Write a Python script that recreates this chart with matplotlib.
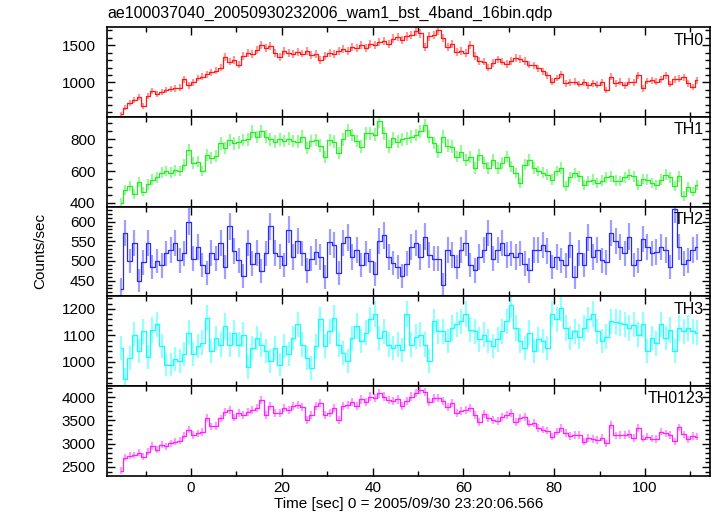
import numpy as np
import matplotlib
matplotlib.use("Agg")
import matplotlib.pyplot as plt
from matplotlib.ticker import MultipleLocator

plt.rcParams["font.family"] = ["Liberation Sans", "DejaVu Sans"]

TITLE = "ae100037040_20050930232006_wam1_bst_4band_16bin.qdp"
XLABEL = "Time [sec] 0 = 2005/09/30 23:20:06.566"
YLABEL = "Counts/sec"

# bin centres [sec], 1 s bins
TIME = np.arange(-15.5, 112.0, 1.0)
EXPOSURE = 0.5  # original 16-bin exposure, sets the Poisson error size

TH0 = [
    570, 660, 720, 760, 800, 680, 820, 880, 840, 870,
    900, 910, 920, 930, 1040, 960, 1000, 1060, 1080, 1110,
    1140, 1160, 1200, 1340, 1280, 1300, 1240, 1360, 1400, 1380,
    1440, 1510, 1470, 1490, 1400, 1340, 1420, 1400, 1380, 1410,
    1390, 1420, 1370, 1380, 1300, 1360, 1400, 1380, 1420, 1450,
    1430, 1480, 1470, 1500, 1460, 1520, 1500, 1540, 1560, 1520,
    1590, 1610, 1570, 1620, 1640, 1690, 1660, 1480, 1620, 1640,
    1700, 1600, 1480, 1520, 1410, 1420, 1400, 1500, 1360, 1290,
    1280, 1200, 1260, 1310, 1280, 1250, 1290, 1330, 1320, 1290,
    1240, 1230, 1190, 1150, 1100, 1010, 1060, 1110, 990, 1000,
    1010, 980, 1000, 960, 990, 970, 1000, 900, 1080, 990,
    1010, 960, 1010, 1000, 1100, 920, 1020, 1030, 1010, 1040,
    1100, 980, 1040, 1050, 1070, 990, 940, 1030,
]

TH1 = [
    400, 480, 505, 455, 530, 470, 515, 545, 560, 590,
    600, 590, 605, 600, 640, 730, 650, 660, 600, 700,
    680, 695, 775, 745, 795, 775, 780, 795, 800, 848,
    815, 850, 816, 800, 785, 800, 790, 805, 790, 785,
    816, 744, 790, 796, 760, 690, 796, 785, 712, 800,
    858, 827, 790, 754, 837, 837, 830, 915, 837, 754,
    806, 785, 800, 806, 816, 827, 850, 889, 816, 776,
    723, 816, 760, 754, 691, 723, 670, 690, 619, 702,
    650, 619, 670, 619, 650, 691, 630, 587, 525, 640,
    670, 619, 600, 590, 577, 546, 600, 619, 504, 560,
    587, 566, 514, 535, 545, 525, 540, 560, 566, 540,
    535, 560, 577, 566, 514, 550, 546, 525, 510, 546,
    577, 560, 504, 566, 441, 500, 470, 514,
]

TH2 = [
    428, 571, 500, 545, 450, 497, 545, 484, 500, 489,
    519, 528, 545, 502, 519, 600, 505, 536, 490, 470,
    520, 506, 545, 484, 588, 525, 502, 462, 545, 493,
    520, 475, 519, 588, 520, 512, 490, 579, 510, 550,
    519, 476, 505, 523, 510, 460, 549, 540, 470, 545,
    560, 510, 528, 490, 519, 500, 467, 550, 565, 510,
    495, 485, 462, 493, 536, 545, 510, 562, 515, 505,
    506, 440, 528, 515, 484, 528, 545, 490, 476, 510,
    528, 571, 505, 528, 545, 515, 519, 510, 519, 493,
    476, 528, 528, 540, 525, 484, 510, 502, 489, 540,
    458, 520, 490, 560, 510, 528, 502, 497, 571, 550,
    536, 519, 562, 490, 502, 555, 536, 519, 523, 536,
    528, 484, 631, 536, 493, 502, 528, 536,
]

TH3 = [
    1053, 935, 1015, 1103, 1040, 1116, 1020, 1120, 1141, 1060,
    990, 990, 1010, 1002, 1028, 1110, 1028, 1060, 1072, 1166,
    1040, 1090, 1065, 1135, 1065, 1110, 1065, 1103, 980, 1053,
    1090, 1065, 1040, 1002, 1053, 990, 1060, 1028, 1090, 1141,
    1065, 1015, 977, 1058, 1160, 1060, 1116, 1166, 1065, 1035,
    1002, 1090, 1135, 1078, 1110, 1160, 1179, 1090, 1116, 1065,
    1053, 1065, 1045, 1179, 1065, 1095, 1103, 1065, 1002, 1153,
    1116, 1116, 1078, 1128, 1141, 1153, 1179, 1122, 1116, 1085,
    1103, 1078, 1060, 1085, 1116, 1153, 1216, 1128, 1080, 1053,
    1110, 1040, 1085, 1078, 1053, 1179, 1160, 1204, 1128, 1090,
    1116, 1095, 1128, 1160, 1179, 1116, 1078, 1095, 1153, 1150,
    1147, 1141, 1128, 1140, 1103, 1141, 1040, 1090, 1070, 1141,
    1090, 1120, 1040, 1128, 1116, 1128, 1116, 1110,
]

TH0123 = [
    2420, 2700, 2740, 2757, 2800, 2720, 2830, 2950, 2870, 2980,
    2940, 3010, 3040, 3060, 3170, 3300, 3190, 3220, 3250, 3545,
    3370, 3380, 3540, 3690, 3730, 3560, 3650, 3620, 3680, 3730,
    3760, 3940, 3620, 3810, 3650, 3660, 3760, 3730, 3800, 3830,
    3780, 3500, 3620, 3800, 3870, 3610, 3660, 3760, 3510, 3800,
    3830, 3900, 3800, 3950, 3890, 4010, 3980, 4080, 4010, 3940,
    3910, 3950, 3800, 3920, 4010, 4090, 4150, 4110, 3900, 3970,
    3980, 3920, 3780, 3870, 3660, 3700, 3720, 3760, 3620, 3470,
    3630, 3550, 3510, 3480, 3580, 3620, 3650, 3470, 3550, 3580,
    3430, 3440, 3330, 3300, 3280, 3150, 3260, 3330, 3230, 3160,
    3190, 3190, 3040, 3120, 3100, 3080, 3130, 3010, 3400, 3180,
    3190, 3190, 3210, 3120, 3330, 3110, 3150, 3110, 3100, 3260,
    3220, 3190, 3050, 3350, 3200, 3090, 3160, 3150,
]

NAMES = ["TH0", "TH1", "TH2", "TH3", "TH0123"]
SERIES = [TH0, TH1, TH2, TH3, TH0123]
COLORS = ["#ff1a1a", "#22ee22", "#2a2aff", "#11ffff", "#ff22ff"]
YLIMS = [(535, 1743), (375, 941), (410, 638), (909, 1247), (2312, 4237)]
YMAJOR = [500, 200, 50, 100, 500]
YMINOR = [100, 50, 10, 20, 100]


def main():
    fig = plt.figure(figsize=(7.17, 5.16), dpi=100)
    left, right = 106.7 / 717, 710 / 717
    top, bottom = 1 - 27.3 / 516, 1 - 475.7 / 516
    h = (top - bottom) / 5
    axes = []
    for i in range(5):
        ax = fig.add_axes([left, top - (i + 1) * h, right - left, h],
                          sharex=axes[0] if axes else None)
        axes.append(ax)

    for ax, name, rate, color, ylim, maj, mnr in zip(axes, NAMES, SERIES, COLORS,
                                                       YLIMS, YMAJOR, YMINOR):
        rate = np.asarray(rate, dtype=float)
        err = np.sqrt(rate / EXPOSURE)
        ax.errorbar(TIME, rate, yerr=err, fmt="none", ecolor=color,
                    elinewidth=1.6, alpha=0.45)
        ax.step(TIME, rate, where="mid", color=color, lw=0.9)
        ax.set_ylim(*ylim)
        ax.yaxis.set_major_locator(MultipleLocator(maj))
        ax.yaxis.set_minor_locator(MultipleLocator(mnr))
        ax.xaxis.set_major_locator(MultipleLocator(20))
        ax.xaxis.set_minor_locator(MultipleLocator(10))
        ax.tick_params(which="both", direction="in", top=True, right=True,
                       labelsize=11, width=1.0)
        ax.tick_params(which="major", length=6)
        ax.tick_params(which="minor", length=3.5)
        ax.tick_params(axis="y", pad=8)
        ax.tick_params(axis="x", pad=4)
        for sp in ax.spines.values():
            sp.set_linewidth(1.2)
        ax.text(0.99, 0.94, name, transform=ax.transAxes, ha="right", va="top",
                fontsize=11.5)
        if ax is not axes[-1]:
            ax.tick_params(labelbottom=False)

    axes[0].set_xlim(-18.57, 114.3)
    axes[-1].set_xlabel(XLABEL, fontsize=11, labelpad=1)
    fig.text(40 / 717, 1 - 251 / 516, YLABEL, rotation=90, ha="center",
             va="center", fontsize=11)
    fig.text(107 / 717, 1 - 13.5 / 516, TITLE, ha="left", va="center",
             fontsize=11.5)

    fig.savefig("out.png", dpi=100)
    plt.close(fig)


if __name__ == "__main__":
    main()
